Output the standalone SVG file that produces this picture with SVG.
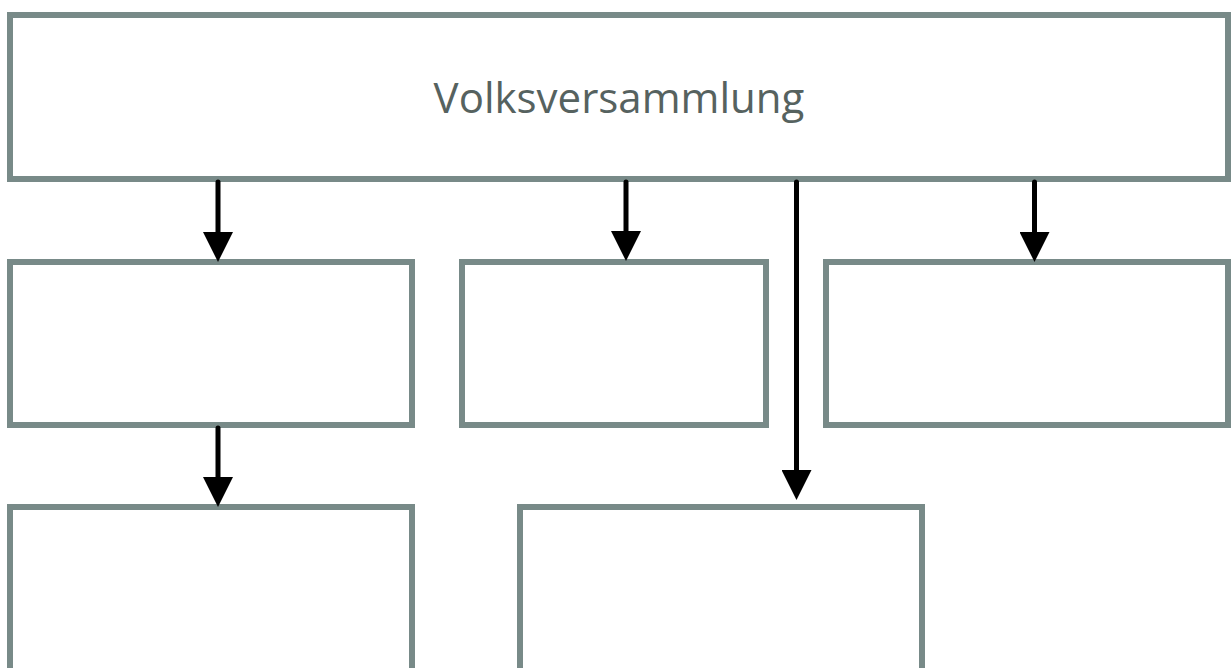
<svg xmlns="http://www.w3.org/2000/svg" width="1231" height="668" viewBox="0 0 1231 668">
<defs>
<style>
.box{fill:#ffffff;stroke:#788a88;stroke-width:6}
.lbl{font-family:"Open Sans",sans-serif;font-size:42px;fill:#56625f}
.conn{stroke:#000;stroke-width:5;stroke-linecap:round;fill:none}
</style>
<marker id="ah" markerUnits="userSpaceOnUse" markerWidth="30" markerHeight="30" viewBox="0 0 30 30" refX="0" refY="15" orient="auto">
<path d="M0,0 L30,15 L0,30 Z" fill="#000"/>
</marker>
</defs>
<rect width="1231" height="668" fill="#fff"/>
<g id="volksversammlung">
<rect class="box" x="10" y="15" width="1218" height="164"/>
<text class="lbl" x="619" y="113" text-anchor="middle">Volksversammlung</text>
</g>
<g id="box-left">
<rect class="box" x="10" y="262" width="402" height="163"/>
</g>
<g id="box-middle">
<rect class="box" x="462" y="262" width="304" height="163"/>
</g>
<g id="box-right">
<rect class="box" x="826" y="262" width="402" height="163"/>
</g>
<g id="box-bottom-left">
<rect class="box" x="10" y="507" width="402" height="200"/>
</g>
<g id="box-bottom-middle">
<rect class="box" x="520" y="507" width="402" height="200"/>
</g>
<g id="connectors">
<line class="conn" x1="218" y1="182" x2="218" y2="232" marker-end="url(#ah)"/>
<line class="conn" x1="626" y1="182" x2="626" y2="231" marker-end="url(#ah)"/>
<line class="conn" x1="796.5" y1="182" x2="796.5" y2="470" marker-end="url(#ah)"/>
<line class="conn" x1="1034.5" y1="182" x2="1034.5" y2="232" marker-end="url(#ah)"/>
<line class="conn" x1="218" y1="428" x2="218" y2="477" marker-end="url(#ah)"/>
</g>
</svg>
